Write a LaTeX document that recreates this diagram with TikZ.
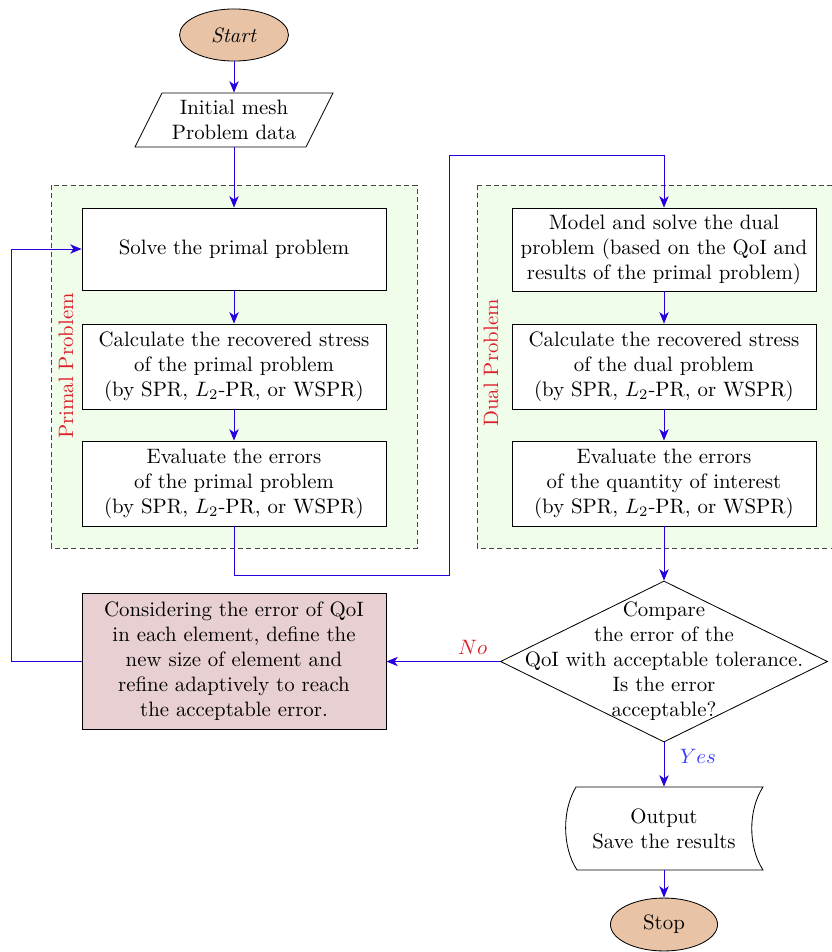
\documentclass[tikz,border=0pt]{standalone}
\usetikzlibrary{arrows.meta,shapes.geometric,calc}
\definecolor{flowblue}{RGB}{40,0,220}
\definecolor{yesblue}{RGB}{60,60,255}
\definecolor{lblred}{RGB}{220,30,40}
\definecolor{termfill}{RGB}{232,195,165}
\definecolor{groupfill}{RGB}{240,253,235}
\definecolor{refinefill}{RGB}{232,207,210}
\definecolor{framegray}{RGB}{70,70,70}
\begin{document}
\begin{tikzpicture}[x=0.48pt,y=-0.48pt,
 flow/.style={draw=flowblue, line width=0.45pt, -{Stealth[length=5.5pt,width=4.5pt,inset=1.6pt]}},
 procbox/.style={draw, fill=white, align=center, minimum width=145.9pt, inner sep=0pt},
 term/.style={ellipse, draw, fill=termfill, inner sep=0pt},
 group/.style={draw=framegray, fill=groupfill, line width=0.45pt, dash pattern=on 2.4pt off 1.6pt},
 grouplabel/.style={text=lblred, rotate=90}]
\useasboundingbox (0,0) rectangle (831,952);
% group frames
\draw[group] (51,185) rectangle (417,548);
\draw[group] (477,185) rectangle (850,548);
\node[grouplabel] (plabel) at (66,366) {Primal Problem};
\node[grouplabel] (dlabel) at (491,363) {Dual Problem};
% terminals and i/o
\node[term, minimum width=52.3pt, minimum height=25pt] (start) at (234,35) {\textit{Start}};
\node[minimum width=82pt, minimum height=25.9pt, inner sep=0pt, align=center] (data) at (234,120) {Initial mesh\\Problem data};
\draw (162,93) -- (333,93) -- (306,147) -- (135,147) -- cycle;
% primal
\node[procbox, minimum height=39.4pt] (solve) at (234,249) {Solve the primal problem};
\node[procbox, minimum height=40.8pt] (calc) at (234,366.5) {Calculate the recovered stress\\of the primal problem\\(by SPR, $L_2$-PR, or WSPR)};
\node[procbox, minimum height=40.8pt] (eval) at (234,483.5) {Evaluate the errors\\of the primal problem\\(by SPR, $L_2$-PR, or WSPR)};
% dual
\node[procbox, minimum height=39.8pt] (dmodel) at (664,249.5) {Model and solve the dual\\problem (based on the QoI and\\results of the primal problem)};
\node[procbox, minimum height=40.8pt] (dcalc) at (664,366.5) {Calculate the recovered stress\\of the dual problem\\(by SPR, $L_2$-PR, or WSPR)};
\node[procbox, minimum height=40.8pt] (deval) at (664,483.5) {Evaluate the errors\\of the quantity of interest\\(by SPR, $L_2$-PR, or WSPR)};
% decision
\node[diamond, draw, minimum width=157pt, minimum height=77.3pt, inner sep=0pt] (cmp) at (664,661.5) {};
\node[align=center] (cmptext) at (664,661.5) {Compare\\the error of the\\QoI with acceptable tolerance.\\Is the error\\acceptable?};
% refine
\node[procbox, fill=refinefill, minimum height=65.3pt] (refine) at (234,661.5) {Considering the error of QoI\\in each element, define the\\new size of element and\\refine adaptively to reach\\the acceptable error.};
% output
\node[minimum width=89.8pt, minimum height=39.8pt, inner sep=0pt, align=center] (out) at (664,828.5) {Output\\Save the results};
\draw (576,787) -- (763,787) .. controls (748,810) and (748,847) .. (763,870) -- (577,870) .. controls (562,847) and (562,810) .. (576,787) -- cycle;
\node[term, minimum width=51.4pt, minimum height=25.4pt] (stop) at (664,924.5) {Stop};
% connectors
\coordinate (j1) at (449,575);
\coordinate (j2) at (449,155);
\coordinate (j4) at (11,249);
\draw[flow] (start.south) -- (data.north);
\draw[flow] (data.south) -- (solve.north);
\draw[flow] (solve) -- (calc);
\draw[flow] (calc) -- (eval);
\draw[flow] (eval.south) |- (j1) -- (j2) -| (dmodel.north);
\draw[flow] (dmodel) -- (dcalc);
\draw[flow] (dcalc) -- (deval);
\draw[flow] (deval.south) -- (cmp.north);
\draw[flow] (cmp.west) -- node[above, pos=0.24, text=lblred] (nolbl) {$No$} (refine.east);
\draw[flow] (refine.west) -| (j4) -- (solve.west);
\draw[flow] (cmp.south) -- node[right=4pt, pos=0.31, text=yesblue] (yeslbl) {$Yes$} (out.north);
\draw[flow] (out.south) -- (stop.north);
\end{tikzpicture}
\end{document}
